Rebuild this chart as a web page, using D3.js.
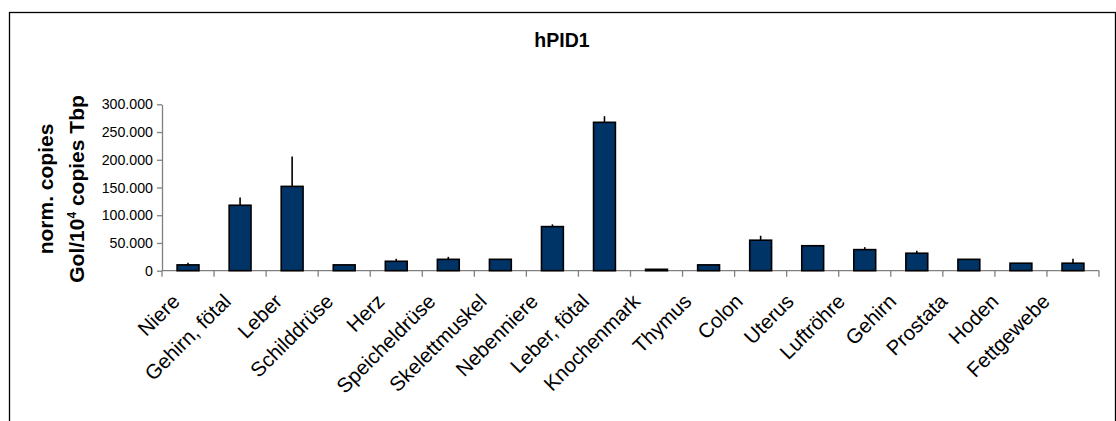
<!DOCTYPE html>
<html>
<head>
<meta charset="utf-8">
<script src="https://cdn.jsdelivr.net/npm/d3@7"></script>
<style>
  body { margin: 0; background: #fff; }
  svg { display: block; font-family: "Liberation Sans", Arial, sans-serif; }
</style>
</head>
<body>
<script>
// hPID1 expression per tissue
var categories = ["Niere", "Gehirn, fötal", "Leber", "Schilddrüse", "Herz", "Speicheldrüse",
  "Skelettmuskel", "Nebenniere", "Leber, fötal", "Knochenmark", "Thymus", "Colon",
  "Uterus", "Luftröhre", "Gehirn", "Prostata", "Hoden", "Fettgewebe"];
var values = [10500, 118000, 152000, 10500, 17000, 20500, 20500, 79500, 267500, 2500,
  10500, 55000, 45000, 38000, 31500, 20500, 13500, 13500];
var errors = [4000, 14000, 54000, 0, 4500, 4500, 0, 4000, 11000, 0,
  0, 8000, 0, 4500, 4500, 0, 0, 8000];
var yTicks = [0, 50000, 100000, 150000, 200000, 250000, 300000];
var title = "hPID1";

var rows = categories.map(function(c, i){ return {cat: c, v: values[i], e: errors[i]}; });

var W = 1116, H = 421;
var m = {left: 162, right: 1099, top: 104.3, bottom: 270.7};

var svg = d3.select("body").append("svg")
  .attr("width", W)
  .attr("height", H);

// frame
svg.append("rect")
  .attr("x", 9.5).attr("y", 12.5)
  .attr("width", 1106).attr("height", 430)
  .attr("fill", "none")
  .attr("stroke", "#000")
  .attr("stroke-width", 1.3);

var x = d3.scaleBand()
  .domain(categories)
  .range([m.left, m.right])
  .paddingInner(0.58)
  .paddingOuter(0.29);

// the labels sit on a slightly tighter grid than the bars
var xl = d3.scalePoint()
  .domain(categories)
  .range([m.left + 19, m.right - 48]);

var y = d3.scaleLinear()
  .domain([0, 300000])
  .range([m.bottom, m.top]);

var de = d3.formatLocale({decimal: ",", thousands: ".", grouping: [3], currency: ["", " €"]});
var fmt = de.format(",.0f");

// y axis
var yAxis = svg.append("g")
  .attr("transform", "translate(" + m.left + ",0)")
  .call(d3.axisLeft(y).tickValues(yTicks).tickFormat(fmt).tickSize(5).tickSizeOuter(0));
yAxis.select(".domain").attr("stroke", "#808080").attr("stroke-width", 1.3);
yAxis.selectAll(".tick line").attr("stroke", "#808080").attr("stroke-width", 1.3);
yAxis.selectAll(".tick text")
  .attr("x", -9)
  .attr("fill", "#000")
  .style("font-size", "14.2px")
  .style("font-family", "'Liberation Sans', Arial, sans-serif");

// x axis: line plus ticks on category borders
var step = x.step();
var xg = svg.append("g");
xg.append("line")
  .attr("x1", m.left).attr("x2", m.right)
  .attr("y1", m.bottom).attr("y2", m.bottom)
  .attr("stroke", "#808080").attr("stroke-width", 1.3);
xg.selectAll("line.tk")
  .data(d3.range(categories.length + 1))
  .enter().append("line")
  .attr("class", "tk")
  .attr("x1", function(i){ return m.left + i*step; })
  .attr("x2", function(i){ return m.left + i*step; })
  .attr("y1", m.bottom).attr("y2", m.bottom + 6)
  .attr("stroke", "#808080").attr("stroke-width", 1.3);

// bars
svg.append("g").selectAll("rect")
  .data(rows)
  .enter().append("rect")
  .attr("x", function(d){ return x(d.cat); })
  .attr("y", function(d){ return y(d.v); })
  .attr("width", x.bandwidth())
  .attr("height", function(d){ return m.bottom - y(d.v); })
  .attr("fill", "#003366")
  .attr("stroke", "#000")
  .attr("stroke-width", 1.6);

// upper error bars
svg.append("g").selectAll("line")
  .data(rows.filter(function(d){ return d.e > 0; }))
  .enter().append("line")
  .attr("x1", function(d){ return x(d.cat) + x.bandwidth()/2; })
  .attr("x2", function(d){ return x(d.cat) + x.bandwidth()/2; })
  .attr("y1", function(d){ return y(d.v); })
  .attr("y2", function(d){ return y(d.v + d.e); })
  .attr("stroke", "#000")
  .attr("stroke-width", 1.6);

// category labels, rotated
svg.append("g").selectAll("text")
  .data(categories)
  .enter().append("text")
  .attr("transform", function(d){
    return "translate(" + xl(d) + "," + (m.bottom + 32) + ") rotate(-45)";
  })
  .attr("text-anchor", "end")
  .style("font-size", "20.5px")
  .text(function(d){ return d; });

// title
svg.append("text")
  .attr("x", 562).attr("y", 47)
  .attr("text-anchor", "middle")
  .style("font-size", "19.5px")
  .style("font-weight", "bold")
  .text(title);

// y axis title, two lines
var yt = svg.append("text")
  .attr("transform", "translate(53,189) rotate(-90)")
  .attr("text-anchor", "middle")
  .style("font-size", "21px")
  .style("font-weight", "bold");
yt.append("tspan").attr("x", 0).attr("dy", 0).text("norm. copies");
yt.append("tspan").attr("x", 0).attr("dy", 30.5).text("Gol/10");
yt.append("tspan").attr("dy", -8).style("font-size", "12px").text("4");
yt.append("tspan").attr("dy", 8).text(" copies Tbp");
</script>
</body>
</html>
